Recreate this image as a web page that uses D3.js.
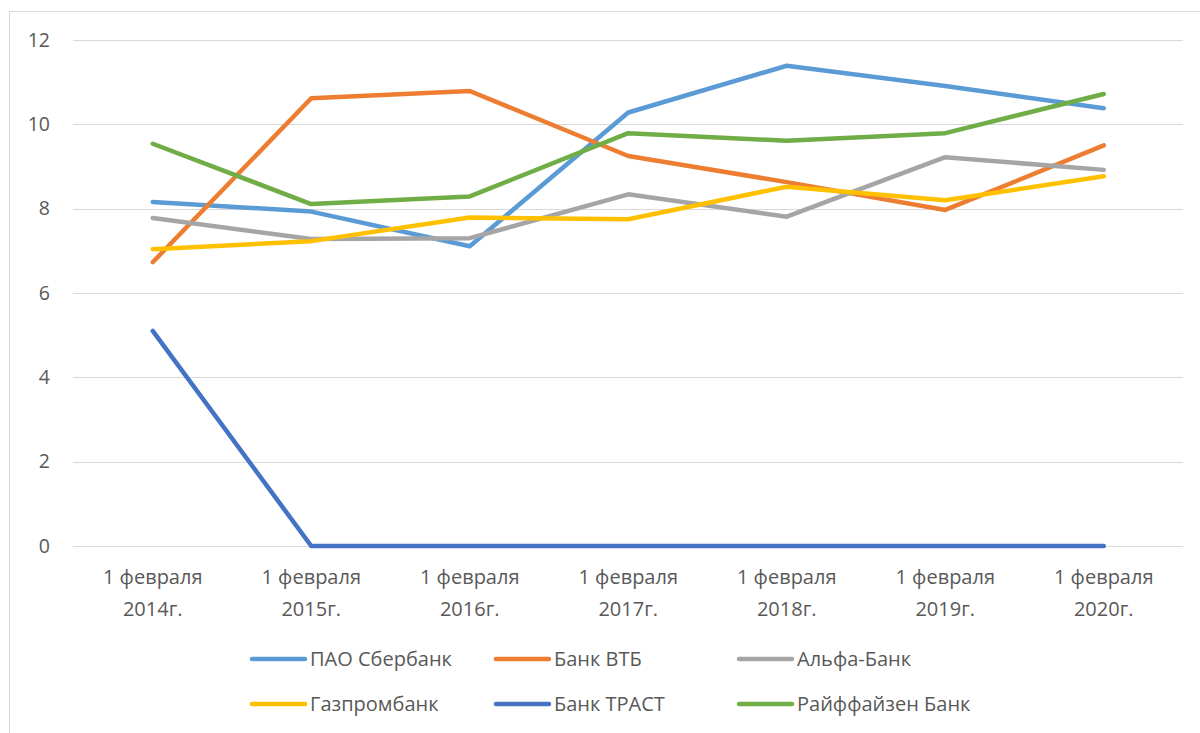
<!DOCTYPE html>
<html>
<head>
<meta charset="utf-8">
<script src="https://cdn.jsdelivr.net/npm/d3@7"></script>
<style>
  body { margin: 0; background: #fff; }
  svg text { font-family: "Open Sans", sans-serif; fill: #595959; }
</style>
</head>
<body>
<svg width="1200" height="733"></svg>
<script>
// data
var dates = ['1 февраля 2014г.', '1 февраля 2015г.', '1 февраля 2016г.', '1 февраля 2017г.',
             '1 февраля 2018г.', '1 февраля 2019г.', '1 февраля 2020г.'];
var banks = ['ПАО Сбербанк', 'Банк ВТБ', 'Альфа-Банк', 'Газпромбанк', 'Банк ТРАСТ', 'Райффайзен Банк'];
var sber = [8.16, 7.93, 7.11, 10.28, 11.39, 10.91, 10.38];
var vtb = [6.73, 10.62, 10.79, 9.25, 8.63, 7.97, 9.50];
var alfa = [7.78, 7.28, 7.30, 8.34, 7.81, 9.22, 8.92];
var gazprom = [7.04, 7.23, 7.79, 7.75, 8.52, 8.20, 8.77];
var trust = [5.10, 0, 0, 0, 0, 0, 0];
var raif = [9.54, 8.11, 8.29, 9.79, 9.61, 9.79, 10.72];
var yTicks = [0, 2, 4, 6, 8, 10, 12];

var colors = ['#5b9bd5', '#ed7d31', '#a5a5a5', '#ffc000', '#4472c4', '#70ad47'];
var seriesVals = [sber, vtb, alfa, gazprom, trust, raif];

var svg = d3.select('svg');

// chart frame
svg.append('rect')
  .attr('x', 9.5).attr('y', 11.5)
  .attr('width', 1300).attr('height', 800)
  .attr('fill', 'none')
  .attr('stroke', '#d9d9d9')
  .attr('stroke-width', 1);

var scaleX = d3.scaleBand().domain(dates).range([73.5, 1183]);
var scaleY = d3.scaleLinear().domain([0, 12]).range([546, 40]);

// gridlines
svg.append('g')
  .selectAll('line')
  .data(yTicks)
  .enter()
  .append('line')
  .attr('x1', 73).attr('x2', 1183)
  .attr('y1', function(d){ return Math.round(scaleY(d)) + 0.5; })
  .attr('y2', function(d){ return Math.round(scaleY(d)) + 0.5; })
  .attr('stroke', '#d9d9d9')
  .attr('stroke-width', 1.2);

// y labels
var yAxis = svg.append('g')
  .attr('transform', 'translate(50,0)')
  .call(d3.axisLeft(scaleY).tickValues(yTicks).tickSize(0).tickPadding(0));
yAxis.select('.domain').remove();
yAxis.selectAll('text')
  .attr('font-size', 19.5)
  .attr('font-family', null)
  .attr('fill', '#595959');

// x labels
var xAxis = svg.append('g')
  .attr('transform', 'translate(0,546)')
  .call(d3.axisBottom(scaleX).tickSize(0));
xAxis.select('.domain').remove();
xAxis.selectAll('text').remove();
xAxis.selectAll('.tick').each(function(d){
  var parts = d.split(' ');
  var t = d3.select(this).append('text')
    .attr('text-anchor', 'middle')
    .attr('font-size', 20)
    .attr('y', 38);
  t.append('tspan').attr('x', 0).text(parts[0] + ' ' + parts[1]);
  t.append('tspan').attr('x', 0).attr('dy', 32).text(parts[2]);
});

// lines
var line = d3.line()
  .x(function(d, i){ return scaleX(dates[i]) + scaleX.bandwidth() / 2; })
  .y(function(d){ return scaleY(d); });

svg.append('g')
  .selectAll('path')
  .data(seriesVals)
  .enter()
  .append('path')
  .attr('d', line)
  .attr('fill', 'none')
  .attr('stroke', function(d, i){ return colors[i]; })
  .attr('stroke-width', 4.5)
  .attr('stroke-linecap', 'round')
  .attr('stroke-linejoin', 'round');

// legend
var legX = [252, 496, 739];
var legY = [659, 704];
var leg = svg.append('g')
  .selectAll('g')
  .data(banks)
  .enter()
  .append('g')
  .attr('transform', function(d, i){
    return 'translate(' + legX[i % 3] + ',' + legY[Math.floor(i / 3)] + ')';
  });
leg.append('line')
  .attr('x1', 0).attr('x2', 53)
  .attr('y1', 0).attr('y2', 0)
  .attr('stroke', function(d, i){ return colors[i]; })
  .attr('stroke-width', 4.5)
  .attr('stroke-linecap', 'round');
leg.append('text')
  .attr('x', 58)
  .attr('dy', '0.35em')
  .attr('font-size', 20)
  .text(function(d){ return d; });
</script>
</body>
</html>
